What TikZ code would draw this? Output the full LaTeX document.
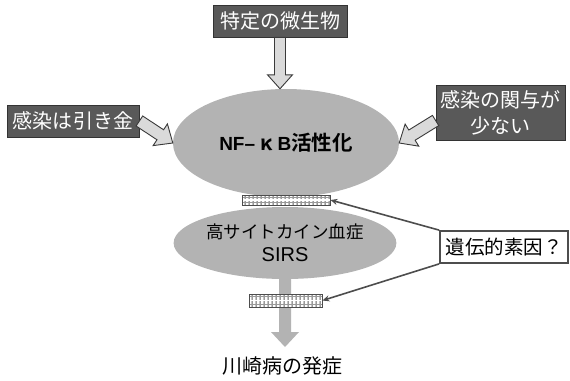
\documentclass[tikz,border=0pt]{standalone}
\usepackage{fontspec}
\setmainfont{Noto Sans CJK JP}[BoldFont={Noto Sans CJK JP Bold}]
\newfontfamily\lat{Liberation Sans}
\usetikzlibrary{calc,arrows.meta,shapes.geometric}
\definecolor{boxdark}{HTML}{595959}
\definecolor{boxline}{HTML}{333333}
\definecolor{ellfill}{HTML}{B3B3B3}
\definecolor{arrfill}{HTML}{DADADA}
\definecolor{arrline}{HTML}{3A3A3A}
\definecolor{gline}{HTML}{4D4D4D}
\definecolor{barfill}{HTML}{C4C4C4}
\definecolor{bardark}{HTML}{9A9A9A}
\tikzset{
  darkbox/.style={draw=boxline, line width=0.8bp, fill=boxdark, text=white, inner sep=0pt,
    font=\fontsize{20bp}{26bp}\selectfont, align=center},
  ell/.style={ellipse, fill=ellfill, draw=none, inner sep=0pt, align=center},
  barbox/.style={draw=gline, line width=0.8bp, fill=barfill, inner sep=0pt,
    path picture={
      \foreach \i in {0,...,30}{
        \draw[white, line width=1.1bp] ([xshift=\i*4bp+1bp]path picture bounding box.south west) -- ++(0,-20);
        \draw[bardark, line width=0.6bp] ([xshift=\i*4bp+3bp]path picture bounding box.south west) -- ++(0,-20);
      }
      \draw[white, line width=1.2bp] (path picture bounding box.west) -- (path picture bounding box.east);
      \draw[bardark, line width=0.6bp] ([yshift=2.5bp]path picture bounding box.south west) -- ([yshift=2.5bp]path picture bounding box.south east);
      \draw[bardark, line width=0.6bp] ([yshift=-2.5bp]path picture bounding box.north west) -- ([yshift=-2.5bp]path picture bounding box.north east);
    }},
  blockarrow/.style={draw=arrline, line width=0.9bp, fill=arrfill, line join=miter},
  glink/.style={draw=gline, line width=1.6bp, -{Stealth[length=7bp,width=6bp]}},
}
\newcommand\blkarrow[5]{%
  \coordinate (ba-hb) at ($(#2)!#5!(#1)$);
  \draw[blockarrow] ($(#1)!#3!90:(#2)$) -- ($(ba-hb)!#3!90:(#2)$) -- ($(ba-hb)!#4!90:(#2)$)
    -- (#2) -- ($(ba-hb)!#4!-90:(#2)$) -- ($(ba-hb)!#3!-90:(#2)$) -- ($(#1)!#3!-90:(#2)$) -- cycle;}
\begin{document}
\begin{tikzpicture}[x=1bp,y=-1bp]
\useasboundingbox (0,0) rectangle (570,380);
% main ellipse
\node[ell, minimum width=226bp, minimum height=108bp,
  font=\bfseries\fontsize{20.5bp}{22bp}\selectfont] (nf) at (286,143)
  {{\lat\fontsize{19bp}{21bp}\selectfont NF–}\hspace{5bp}κ\hspace{5bp}{\lat\fontsize{19bp}{21bp}\selectfont B}活性化};
% stem and arrow to onset
\coordinate (onsettip) at (285,347);
\fill[ellfill] (279,265) -- (279,332) -- (271,332) -- (onsettip) -- (299,332) -- (291,332) -- (291,265) -- cycle;
\node[ell, minimum width=190bp, minimum height=72bp,
  font=\fontsize{17.5bp}{23bp}\selectfont] (e2) at (285,243)
  {高サイトカイン血症\\{\lat\fontsize{20bp}{23bp}\selectfont SIRS}};
% bars
\node[barbox, minimum width=88bp, minimum height=10bp] (bar1) at (286,200) {};
\node[barbox, minimum width=73bp, minimum height=13bp] (bar2) at (285.5,300.5) {};
% boxes
\node[darkbox, minimum width=134bp, minimum height=32bp] (tbox) at (280,21) {特定の微生物};
\node[darkbox, minimum width=132bp, minimum height=32bp] (lbox) at (73,121) {感染は引き金};
\node[darkbox, minimum width=129bp, minimum height=55bp] (rbox) at (500.5,112.5) {感染の関与が\\少ない};
\node[draw=gline, line width=1.8bp, fill=white, inner sep=0pt, minimum width=128bp, minimum height=32bp,
  font=\fontsize{19.5bp}{24bp}\selectfont] (gbox) at (504,247) {遺伝的素因？};
% onset text
\node[inner sep=0pt, font=\fontsize{20bp}{24bp}\selectfont] (onset) at (282,366) {川崎病の発症};
% block arrows
\coordinate (ttail) at (tbox.south);
\coordinate (ttip) at (tbox.south |- nf.north);
\blkarrow{ttail}{ttip}{5.5bp}{12.5bp}{14bp}
\coordinate (ltail) at (lbox.east);
\blkarrow{ltail}{nf.west}{6bp}{13bp}{15bp}
\coordinate (rtail) at ([yshift=-8bp]rbox.west);
\blkarrow{rtail}{nf.east}{6bp}{13bp}{15bp}
% genetic links
\draw[glink] (gbox.north west) -- (bar1.east);
\draw[glink] (gbox.south west) -- (bar2.east);
\end{tikzpicture}
\end{document}
